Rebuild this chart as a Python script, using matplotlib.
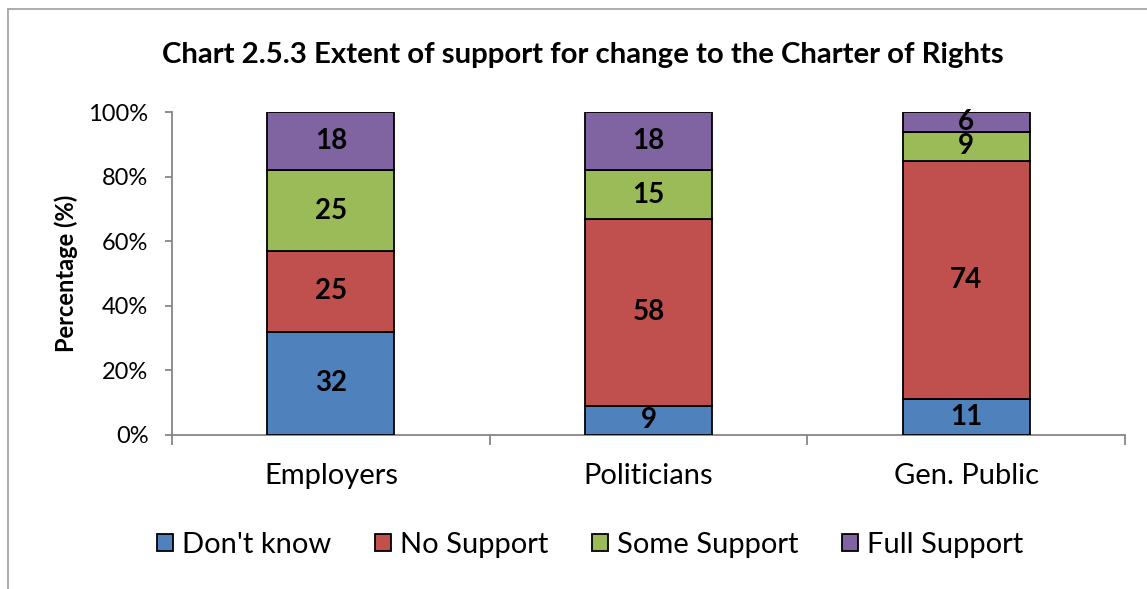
import numpy as np
from matplotlib import pyplot as plt
from matplotlib.lines import Line2D

plt.rcParams['font.family'] = ['Lato', 'DejaVu Sans']

groups = ['Employers', 'Politicians', 'Gen. Public']
series = ["Don't know", 'No Support', 'Some Support', 'Full Support']
dont_know = [32, 9, 11]
no_support = [25, 58, 74]
some_support = [25, 15, 9]
full_support = [18, 18, 6]
colors = ['#4F81BD', '#C0504D', '#9BBB59', '#8064A2']

fig = plt.figure(figsize=(11.47, 5.89), dpi=100)
ax = fig.add_axes([0.150, 0.2615, 0.831, 0.548])

x = np.arange(len(groups))
bottom = np.zeros(len(groups))
for name, vals, col in zip(series, [dont_know, no_support, some_support, full_support], colors):
    bars = ax.bar(x, vals, width=0.4, bottom=bottom, color=col, edgecolor='black',
                  linewidth=1.3, label=name, zorder=3)
    ax.bar_label(bars, labels=[str(v) for v in vals], label_type='center',
                 fontsize=20, fontweight='bold', color='black')
    bottom += np.array(vals)

ax.set_xlim(-0.5, 2.5)
ax.set_ylim(0, 100)
ax.set_yticks([0, 20, 40, 60, 80, 100])
ax.set_yticklabels(['0%', '20%', '40%', '60%', '80%', '100%'], fontsize=17)

# boundary ticks on the category axis, names sit in between
ax.set_xticks([-0.5, 0.5, 1.5, 2.5])
ax.set_xticklabels([])
ax.set_xticks(x, minor=True)
ax.set_xticklabels(groups, minor=True, fontsize=21)
ax.tick_params(axis='x', which='major', direction='out', length=7, color='#868686', width=1.3)
ax.tick_params(axis='x', which='minor', length=0, pad=20)
ax.tick_params(axis='y', direction='out', length=5, color='#868686', width=1.3, pad=12)

for side in ['top', 'right']:
    ax.spines[side].set_visible(False)
for side in ['left', 'bottom']:
    ax.spines[side].set_color('#868686')
    ax.spines[side].set_linewidth(1.3)

ax.set_ylabel('Percentage (%)', fontsize=17, fontweight='bold')
ax.yaxis.set_label_coords(-0.099, 0.5)

fig.text(583 / 1147, 1 - 55 / 589, 'Chart 2.5.3 Extent of support for change to the Charter of Rights',
         ha='center', va='center', fontsize=21.2, fontweight='bold')

fig.legend(loc='center', bbox_to_anchor=(590 / 1147, 1 - 545 / 589), ncol=4, frameon=False,
           fontsize=21, handlelength=0.55, handleheight=0.55, handletextpad=0.3,
           columnspacing=1.5)

# chart frame edges
fig.add_artist(Line2D([8 / 1147, 1], [1 - 9 / 589, 1 - 9 / 589], color='#a6a6a6', lw=1.3))
fig.add_artist(Line2D([8 / 1147, 8 / 1147], [0, 1 - 9 / 589], color='#a6a6a6', lw=1.3))

fig.savefig('out.png', dpi=100)
